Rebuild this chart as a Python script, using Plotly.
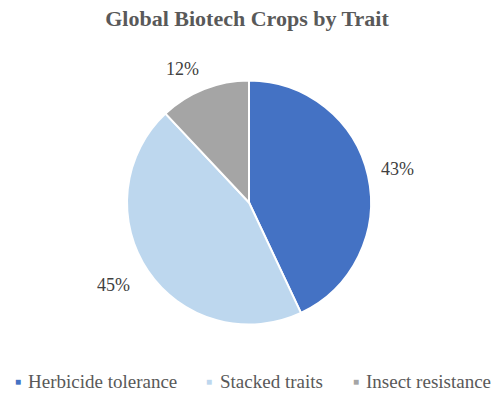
import math
import plotly.graph_objects as go

# Share of global biotech crop area by trait
traits = ["Herbicide tolerance", "Stacked traits", "Insect resistance"]
shares = [43, 45, 12]
colors = ["#4472C4", "#BDD7EE", "#A5A5A5"]
# radial distance of each percentage label (multiple of the pie radius)
label_dist = [1.25, 1.30, 1.22]
# angular nudge of each percentage label, degrees
label_turn = [0, 3, -5]

SERIF = "'Times New Roman', 'Liberation Serif', Tinos, 'DejaVu Serif', serif"
W, H = 494, 395
# pie box in pixels (left, right, top, bottom)
px0, px1, py0, py1 = 127, 371, 80, 325

fig = go.Figure(go.Pie(
    labels=traits,
    values=shares,
    sort=False,
    direction="clockwise",
    rotation=0,
    marker=dict(colors=colors, line=dict(color="white", width=2)),
    textinfo="none",
    hoverinfo="label+percent",
    showlegend=False,
    domain=dict(x=[px0 / W, px1 / W], y=[1 - py1 / H, 1 - py0 / H]),
))

# percentage labels placed around the pie at each slice's mid-angle
cx, cy = (px0 + px1) / 2, (py0 + py1) / 2
r = min(px1 - px0, py1 - py0) / 2
total = sum(shares)
cum = 0
for v, d, t in zip(shares, label_dist, label_turn):
    mid = (cum + v / 2) / total * 2 * math.pi + math.radians(t)
    cum += v
    x = cx + d * r * math.sin(mid)
    y = cy - d * r * math.cos(mid)
    fig.add_annotation(
        x=x / W, y=1 - y / H, xref="paper", yref="paper",
        text=f"{round(v / total * 100)}%", showarrow=False,
        font=dict(family=SERIF, size=18, color="#404040"),
        xanchor="center", yanchor="middle",
    )

# legend row along the bottom: small coloured square, then the trait name
legend_y = 1 - 381 / H
legend_sq = [18, 209, 356]
legend_txt = [26, 218, 364]
for name, c, sx, tx in zip(traits, colors, legend_sq, legend_txt):
    fig.add_annotation(
        x=sx / W, y=legend_y, xref="paper", yref="paper",
        text="■", showarrow=False, xanchor="center", yanchor="middle",
        font=dict(size=10, color=c),
    )
    fig.add_annotation(
        x=tx / W, y=legend_y, xref="paper", yref="paper",
        text=name, showarrow=False, xanchor="left", yanchor="middle",
        font=dict(family=SERIF, size=19, color="#595959"),
    )

fig.update_layout(
    width=W, height=H,
    margin=dict(l=0, r=0, t=0, b=0),
    paper_bgcolor="white",
    plot_bgcolor="white",
    title=dict(
        text="<b>Global Biotech Crops by Trait</b>",
        x=0.5, xanchor="center", y=1 - 18 / H, yanchor="middle",
        font=dict(family=SERIF, size=22, color="#595959"),
    ),
    showlegend=False,
)

fig.write_html("out.html")
